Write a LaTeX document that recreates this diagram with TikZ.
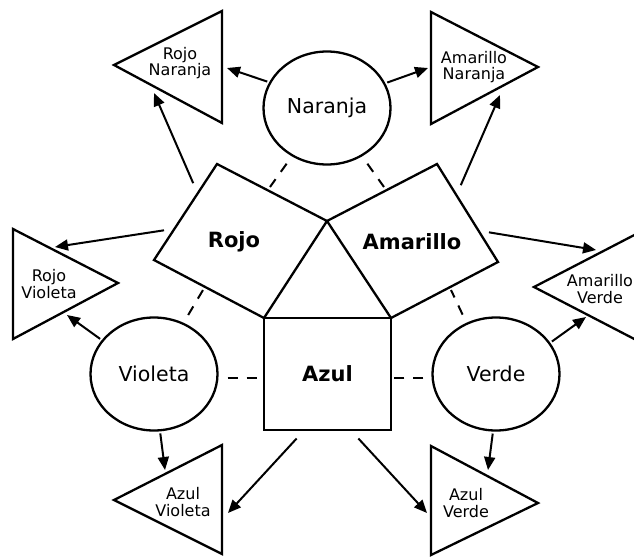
\documentclass[tikz,border=0pt]{standalone}
\usepackage{fontspec}
\setmainfont{DejaVu Sans}
\usetikzlibrary{arrows.meta,shapes.geometric}
\begin{document}
\begin{tikzpicture}[x=1pt,y=-1pt,
	important line/.style={line width=2.3pt},
	arr/.style={line width=2pt,shorten <=2pt,-{Triangle[length=13pt,width=11pt]}},
	dashline/.style={line width=2pt,dash pattern=on 10pt off 9pt},
	circ/.style={ellipse,draw,line width=2.3pt,minimum width=127pt,minimum height=113pt,inner sep=0pt,font=\fontsize{20.5}{24}\selectfont},
	big label/.style={font=\fontsize{21}{24}\selectfont\bfseries},
	small label/.style={align=center,inner sep=1pt,font=\fontsize{16}{16.5}\selectfont}]
		\useasboundingbox (0,0) rectangle (634,557);
		\clip (0,0) rectangle (634,557);
		\node[circ] (naranja) at (327,108) {Naranja}; %top circle
		\node[circ] (violeta) at (154,374) {Violeta}; %left circle
		\node[circ] (verde) at (496,374) {Verde}; %right circle
		\node[draw,important line,outer sep=0pt,minimum width=127pt,minimum height=112pt,big label] (azul) at (327.5,374) {Azul}; %blue square
		\coordinate (apex) at (327,221);
		\draw[important line] (apex) -- (azul.north west) -- (154,260) -- (217,164) -- cycle; %red square
		\draw[important line] (apex) -- (azul.north east) -- (498,262) -- (437,164) -- cycle; %yellow square
		\node[big label] (rojo) at (234,242) {Rojo};
		\node[big label] (amarillo) at (412,242) {Amarillo};
		\draw[important line] (114,65) -- (222,11) -- (222,123) -- cycle; %triangles
		\node[small label] (rojonar) at (180,63) {Rojo\\Naranja};
		\draw[important line] (538,67) -- (431,12) -- (431,124) -- cycle;
		\node[small label] (amanar) at (474,67) {Amarillo\\Naranja};
		\draw[important line] (118,283) -- (13,229) -- (13,339) -- cycle;
		\node[small label] (rojovio) at (49,284) {Rojo\\Violeta};
		\draw[important line] (534,287) -- (642,231) -- (642,343) -- cycle;
		\node[small label] (amaver) at (600,289) {Amarillo\\Verde};
		\draw[important line] (114,500) -- (222,445) -- (222,554) -- cycle;
		\node[small label] (azulvio) at (183,502) {Azul\\Violeta};
		\draw[important line] (538,503) -- (431,446) -- (431,555) -- cycle;
		\node[small label] (azulver) at (466,503) {Azul\\Verde};
		% arrow ends
		\coordinate (r1) at (194,185); \coordinate (rn1) at (227,68); \coordinate (rn2) at (154,93);
		\coordinate (a1) at (460,187); \coordinate (an1) at (428,68); \coordinate (an2) at (500,95);
		\coordinate (r2) at (166,230); \coordinate (rv1) at (55,247); \coordinate (rv2) at (67,315);
		\coordinate (a2) at (487,232); \coordinate (av1) at (596,250); \coordinate (av2) at (586,317);
		\coordinate (z1) at (298,437); \coordinate (zv1) at (165,470); \coordinate (zv2) at (228,513);
		\coordinate (z2) at (357,437); \coordinate (ze1) at (427,513); \coordinate (ze2) at (488,470);
		\draw[arr] (naranja.156) -- (rn1);
		\draw[arr] (naranja.23) -- (an1);
		\draw[arr] (r1) -- (rn2);
		\draw[arr] (a1) -- (an2);
		\draw[arr] (r2) -- (rv1);
		\draw[arr] (violeta.147) -- (rv2);
		\draw[arr] (a2) -- (av1);
		\draw[arr] (verde.30) -- (av2);
		\draw[arr] (violeta.276) -- (zv1);
		\draw[arr] (z1) -- (zv2);
		\draw[arr] (z2) -- (ze1);
		\draw[arr] (verde.267) -- (ze2);
		% dashed lines
		\coordinate (dr1) at (270,187); \coordinate (da1) at (384,187);
		\coordinate (dr2) at (203,290); \coordinate (da2) at (451,290);
		\draw[dashline,shorten <=9pt] (naranja.234) -- (dr1);
		\draw[dashline,shorten <=9pt] (naranja.306) -- (da1);
		\draw[dashline,shorten <=9pt] (violeta.60) -- (dr2);
		\draw[dashline,shorten <=9pt] (verde.120) -- (da2);
		\draw[dashline,shorten <=9pt] ([yshift=-4pt]violeta.east) -- ([yshift=-4pt]azul.west);
		\draw[dashline,shorten <=8pt] ([yshift=-4pt]verde.west) -- ([yshift=-4pt]azul.east);
\end{tikzpicture}
\end{document}
